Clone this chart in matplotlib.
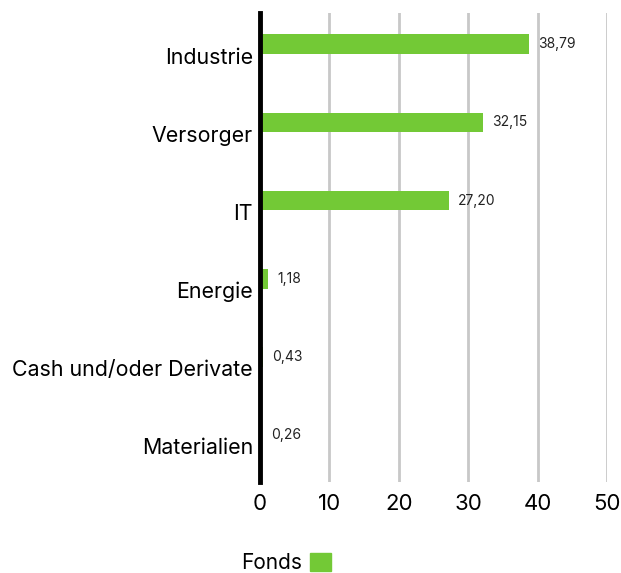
import matplotlib.pyplot as plt
from matplotlib.patches import Patch

# sector weights of the fund (in %)
sectors = ['Industrie', 'Versorger', 'IT', 'Energie', 'Cash und/oder Derivate', 'Materialien']
weights = [38.79, 32.15, 27.20, 1.18, 0.43, 0.26]
labels = ['38,79', '32,15', '27,20', '1,18', '0,43', '0,26']
xticks = [0, 10, 20, 30, 40, 50]

green = '#73c936'
plt.rcParams['font.family'] = ['Inter', 'DejaVu Sans']

fig = plt.figure(figsize=(6.21, 5.73), dpi=100)
ax = fig.add_axes([260 / 621, 1 - 482 / 573, 347 / 621, 469 / 573])

pos = list(range(len(sectors)))
ax.barh([p - 0.1 for p in pos], weights, height=0.25, color=green, zorder=3)
for p, w, t in zip(pos, weights, labels):
    ax.annotate(t, (w, p - 0.1), xytext=(6.5, 0), textcoords='offset points',
                va='center', ha='left', fontsize=10, color='#222222')

ax.set_xlim(0, 50)
ax.set_ylim(5.5, -0.5)
ax.set_xticks(xticks)
ax.set_xticklabels([str(x) for x in xticks], fontsize=16)
ax.set_yticks([p + 0.045 for p in pos])
ax.set_yticklabels(sectors, fontsize=15.4)
ax.tick_params(axis='y', length=0, pad=5)
ax.tick_params(axis='x', length=0, pad=9)
ax.grid(axis='x', color='#c8c8c8', linewidth=2, zorder=0)
for s in ['top', 'right', 'bottom']:
    ax.spines[s].set_visible(False)
ax.spines['left'].set_linewidth(3.5)
ax.spines['left'].set_color('black')
ax.spines['left'].set_zorder(4)

fig.legend(handles=[Patch(color=green, label='Fonds')], loc='upper center',
           bbox_to_anchor=(286 / 621, 1 - 536 / 573), frameon=False, markerfirst=False,
           fontsize=15, handlelength=1.0, handleheight=1.0, handletextpad=0.4,
           borderpad=0.3)

fig.savefig('out.png', dpi=100)
